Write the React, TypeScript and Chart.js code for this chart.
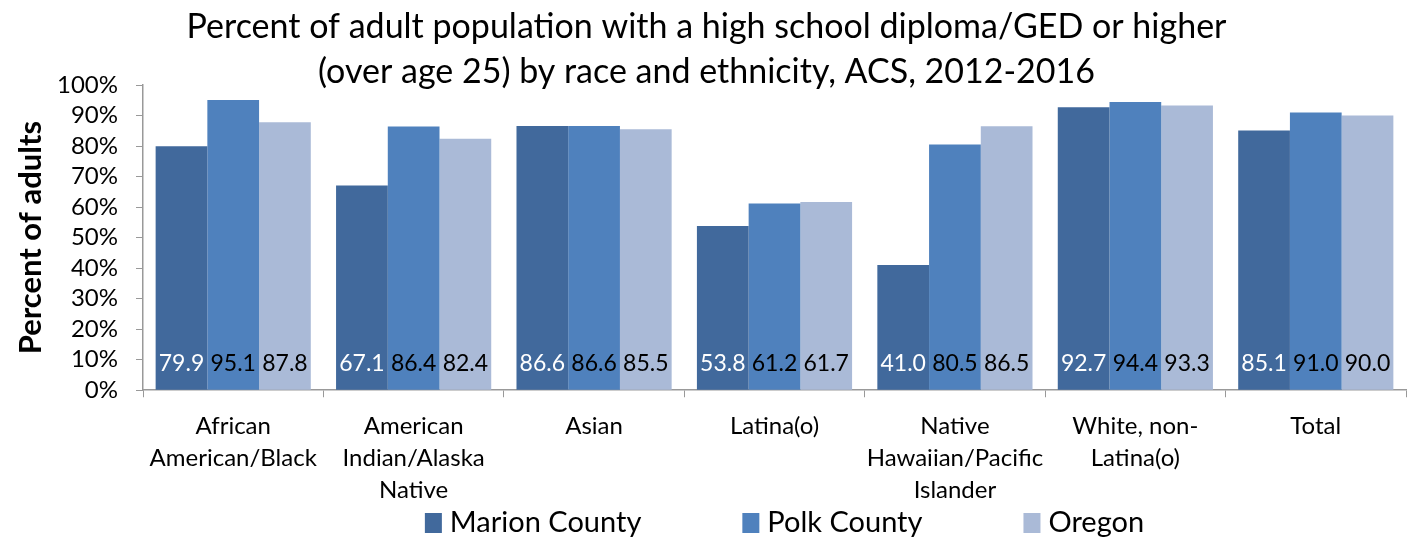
import React, { useEffect, useRef } from "react";
import { Chart, registerables } from "chart.js";

Chart.register(...registerables);

const TITLE_LINES = [
  "Percent of adult population with a high school diploma/GED or higher",
  "(over age 25) by race and ethnicity, ACS, 2012-2016",
];
const Y_TITLE = "Percent of adults";
const CATEGORIES: string[][] = [
  ["African", "American/Black"],
  ["American", "Indian/Alaska", "Native"],
  ["Asian"],
  ["Latina(o)"],
  ["Native", "Hawaiian/Pacific", "Islander"],
  ["White, non-", "Latina(o)"],
  ["Total"],
];
const MARION = [79.9, 67.1, 86.6, 53.8, 41.0, 92.7, 85.1];
const POLK = [95.1, 86.4, 86.6, 61.2, 80.5, 94.4, 91.0];
const OREGON = [87.8, 82.4, 85.5, 61.7, 86.5, 93.3, 90.0];
const SERIES_NAMES = ["Marion County", "Polk County", "Oregon"];
const COLORS = ["#41699C", "#4F81BD", "#AABAD7"];
const LABEL_COLORS = ["#FFFFFF", "#000000", "#000000"];

const FONT = "Lato, 'Open Sans', sans-serif";

const titlePlugin = {
  id: "customTitle",
  afterDraw(chart: any) {
    const ctx = chart.ctx;
    ctx.save();
    ctx.fillStyle = "#000";
    ctx.font = `34px ${FONT}`;
    ctx.textAlign = "center";
    ctx.textBaseline = "alphabetic";
    const cx = chart.width / 2;
    TITLE_LINES.forEach((line, i) => {
      ctx.fillText(line, cx, 38 + i * 45);
    });
    ctx.restore();
  },
};

const valueLabelPlugin = {
  id: "valueLabels",
  afterDatasetsDraw(chart: any) {
    const ctx = chart.ctx;
    ctx.save();
    ctx.font = `23px ${FONT}`;
    ctx.textAlign = "center";
    ctx.textBaseline = "middle";
    chart.data.datasets.forEach((ds: any, di: number) => {
      const meta = chart.getDatasetMeta(di);
      meta.data.forEach((bar: any, i: number) => {
        ctx.fillStyle = LABEL_COLORS[di];
        ctx.fillText(Number(ds.data[i]).toFixed(1), bar.x, bar.base - 26);
      });
    });
    ctx.restore();
  },
};

const legendPlugin = {
  id: "customLegend",
  afterDraw(chart: any) {
    const ctx = chart.ctx;
    ctx.save();
    ctx.font = `29px ${FONT}`;
    ctx.textBaseline = "middle";
    const box = 17;
    const gapBoxText = 8;
    const gapItems = 101;
    const widths = SERIES_NAMES.map((n) => box + gapBoxText + ctx.measureText(n).width);
    const total = widths.reduce((a, b) => a + b, 0) + gapItems * (widths.length - 1);
    const ca = chart.chartArea;
    let x = (ca.left + ca.right) / 2 - total / 2 + 10;
    const y = chart.height - 19;
    SERIES_NAMES.forEach((n, i) => {
      ctx.fillStyle = COLORS[i];
      ctx.fillRect(x, y - 10, box, 20);
      ctx.fillStyle = "#000";
      ctx.textAlign = "left";
      ctx.fillText(n, x + box + gapBoxText, y);
      x += widths[i] + gapItems;
    });
    ctx.restore();
  },
};

export default function App() {
  const ref = useRef<HTMLCanvasElement | null>(null);
  useEffect(() => {
    document.body.style.margin = "0";
    const canvas = ref.current;
    if (!canvas) return;
    const seriesData = [MARION, POLK, OREGON];
    const chart = new Chart(canvas, {
      type: "bar",
      data: {
        labels: CATEGORIES,
        datasets: seriesData.map((d, i) => ({
          label: SERIES_NAMES[i],
          data: d,
          backgroundColor: COLORS[i],
          borderWidth: 0,
          categoryPercentage: 0.86,
          barPercentage: 1.0,
        })),
      },
      options: {
        animation: false,
        responsive: false,
        layout: { padding: { top: 85, left: 8, right: 7, bottom: 23 } },
        plugins: {
          legend: { display: false },
          title: { display: false },
          tooltip: { enabled: false },
        },
        scales: {
          x: {
            grid: {
              display: true,
              drawOnChartArea: false,
              drawTicks: true,
              tickLength: 7,
              color: "#999",
              offset: true,
            },
            border: { color: "#999", width: 1.5 },
            ticks: {
              color: "#000",
              font: { family: FONT, size: 24, lineHeight: 1.33 },
              padding: 13,
              maxRotation: 0,
              autoSkip: false,
            },
          },
          y: {
            min: 0,
            max: 100,
            afterFit: (scale: any) => {
              scale.width = 135;
            },
            grid: {
              display: true,
              drawOnChartArea: false,
              drawTicks: true,
              tickLength: 7,
              color: "#999",
            },
            border: { color: "#999", width: 1.5 },
            ticks: {
              stepSize: 10,
              autoSkip: false,
              color: "#000",
              font: { family: FONT, size: 24 },
              padding: 18,
              callback: (v: any) => `${v}%`,
            },
            title: {
              display: true,
              text: Y_TITLE,
              color: "#000",
              font: { family: FONT, size: 31, weight: "bold", lineHeight: 1.2 },
              padding: { top: 4, bottom: 8 },
            },
          },
        },
      },
      plugins: [titlePlugin, valueLabelPlugin, legendPlugin],
    });
    return () => chart.destroy();
  }, []);
  return (
    <div style={{ width: 1413, height: 542 }}>
      <canvas ref={ref} width={1413} height={542} style={{ display: "block" }} />
    </div>
  );
}
